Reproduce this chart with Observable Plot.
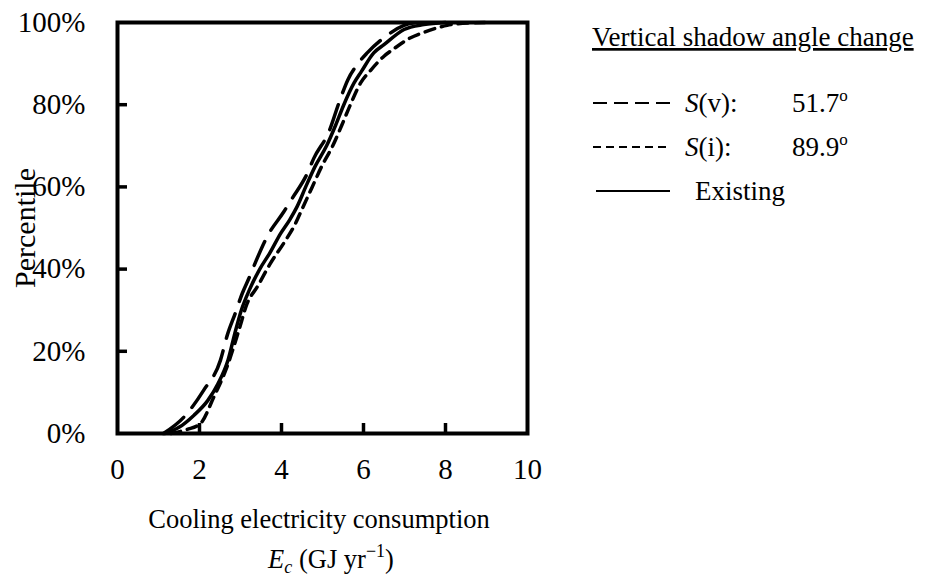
<!DOCTYPE html>
<html>
<head>
<meta charset="utf-8">
<script src="https://cdn.jsdelivr.net/npm/d3@7"></script>
<script src="https://cdn.jsdelivr.net/npm/@observablehq/plot@0.6"></script>
<style>
  html, body { margin: 0; padding: 0; background: #fff; }
  #chart { width: 925px; height: 577px; }
</style>
</head>
<body>
<div id="chart"></div>
<script>
// ---- data ----
const xTicks = [0, 2, 4, 6, 8, 10];
const yTicks = [0, 20, 40, 60, 80, 100];
const seriesNames = ["S(v)", "S(i)", "Existing"];
const legendValues = ["51.7", "89.9", ""];

// Existing (solid)
const existingX   = [1.15, 1.5, 1.86, 2.2, 2.45, 2.7, 2.86, 3.02, 3.22, 3.47, 3.72, 3.98, 4.2, 4.38, 4.59, 4.82, 5.1, 5.32, 5.52, 5.77, 5.95, 6.25, 6.5, 6.99, 7.47, 8.0];
const existingPct = [0, 1.5, 4.4, 8, 12.1, 18, 24.3, 30, 35, 40, 44, 48.7, 52, 55.2, 60, 65, 70, 75, 80, 85.3, 88.1, 92.6, 94.6, 98.3, 99.5, 100];

// S(v): 51.7 (long dash)
const svX   = [1.12, 1.62, 2.10, 2.51, 2.68, 2.87, 3.04, 3.22, 3.38, 3.65, 4.06, 4.26, 4.63, 4.79, 5.16, 5.42, 5.62, 5.85, 6.09, 6.5, 6.99, 7.3];
const svPct = [0, 4, 10.5, 17.8, 24, 29.2, 34, 38.1, 42, 47.9, 54, 57.2, 63.3, 67, 73.5, 81, 86.1, 89.8, 92.6, 96.3, 99.3, 100];

// S(i): 89.9 (short dash)
const siX   = [1.3, 1.7, 2.02, 2.35, 2.67, 2.96, 3.16, 3.41, 3.73, 4.08, 4.30, 4.52, 4.75, 4.98, 5.25, 5.47, 5.68, 5.93, 6.17, 6.50, 6.74, 7.15, 7.39, 7.80, 8.04, 8.61, 9.0];
const siPct = [0, 1, 2.4, 8.9, 16.2, 25.1, 31.6, 35.7, 41.4, 46.7, 50.3, 55, 60, 65, 70, 75, 80, 85.3, 88.3, 91.8, 93.6, 96.3, 97.3, 98.7, 99.3, 99.9, 100];

const toRows = (xs, ps, name) => xs.map((x, i) => ({x, p: ps[i], name}));
const svRows = toRows(svX, svPct, seriesNames[0]);
const siRows = toRows(siX, siPct, seriesNames[1]);
const exRows = toRows(existingX, existingPct, seriesNames[2]);

// ---- layout ----
const W = 925, H = 577;
const mL = 117, mR = 398, mT = 22, mB = 144;
const plotH = H - mT - mB, plotW = W - mL - mR;
const tickLen = 10;
const FONT = "Liberation Serif, 'Times New Roman', serif";
const dashLong = "26,13", dashShort = "10,7";

const plot = Plot.plot({
  width: W, height: H,
  marginLeft: mL, marginRight: mR, marginTop: mT, marginBottom: mB,
  style: {fontFamily: FONT, fontSize: "29px", color: "#000", background: "#fff", overflow: "visible"},
  x: {domain: [0, 10]},
  y: {domain: [0, 100]},
  marks: [
    Plot.line(exRows, {x: "x", y: "p", stroke: "#000", strokeWidth: 3.5, curve: "monotone-x"}),
    Plot.line(svRows, {x: "x", y: "p", stroke: "#000", strokeWidth: 3.5, strokeDasharray: dashLong, curve: "monotone-x"}),
    Plot.line(siRows, {x: "x", y: "p", stroke: "#000", strokeWidth: 3.5, strokeDasharray: dashShort, curve: "monotone-x"}),
    Plot.ruleX(xTicks.slice(1, -1), {x: d => d, insetTop: plotH - tickLen, stroke: "#000", strokeWidth: 3.5}),
    Plot.ruleY(yTicks.slice(1, -1), {y: d => d, insetRight: plotW - tickLen, stroke: "#000", strokeWidth: 3.5}),
    Plot.frame({stroke: "#000", strokeWidth: 4}),
    Plot.axisX({ticks: xTicks, tickSize: 0, tickPadding: 25, label: null, fill: "#000", fontSize: 29}),
    Plot.axisY({ticks: yTicks, tickSize: 0, tickPadding: 32, tickFormat: d => d + "%", label: null, fill: "#000", fontSize: 29}),
    Plot.text(["Percentile"], {frameAnchor: "left", textAnchor: "middle", dx: -92, rotate: -90, text: d => d, fill: "#000", fontSize: 30})
  ]
});
document.getElementById("chart").appendChild(plot);

// ---- x-axis title (mixed styles) ----
const svg = d3.select(plot);
const xs = plot.scale("x");
const cx = xs.apply(5);
svg.append("text")
  .attr("x", cx - 3).attr("y", 528)
  .attr("text-anchor", "middle")
  .attr("font-size", 26.5).attr("fill", "#000")
  .text("Cooling electricity consumption");
const t2 = svg.append("text")
  .attr("x", cx + 9).attr("y", 568)
  .attr("text-anchor", "middle")
  .attr("font-size", 26.5).attr("fill", "#000");
t2.append("tspan").attr("font-style", "italic").text("E");
t2.append("tspan").attr("font-style", "italic").attr("font-size", 18).attr("dy", 5).text("c");
t2.append("tspan").attr("dy", -5).text(" (GJ yr");
t2.append("tspan").attr("font-size", 18).attr("dy", -11).text("\u22121");
t2.append("tspan").attr("dy", 11).text(")");

// ---- legend ----
const lg = svg.append("g").attr("font-size", 27).attr("fill", "#000").attr("text-anchor", "start");
lg.append("text").attr("x", 592).attr("y", 46)
  .style("text-decoration", "underline")
  .text("Vertical shadow angle change");
const rowsY = [112, 156, 200];
const legendDashes = ["14,7", "8,5", null];
const lx1 = [593, 593, 596], lx2 = 670;
rowsY.forEach((y, i) => {
  const ln = lg.append("line").attr("x1", lx1[i]).attr("x2", lx2)
    .attr("y1", y - 9).attr("y2", y - 9)
    .attr("stroke", "#000").attr("stroke-width", 2);
  if (legendDashes[i]) ln.attr("stroke-dasharray", legendDashes[i]);
  const name = seriesNames[i];
  if (legendValues[i]) {
    const t = lg.append("text").attr("x", 685).attr("y", y);
    t.append("tspan").attr("font-style", "italic").text(name[0]);
    t.append("tspan").text(name.slice(1) + ":");
    const v = lg.append("text").attr("x", 792).attr("y", y);
    v.append("tspan").text(legendValues[i]);
    v.append("tspan").attr("font-size", 17).attr("dy", -11).text("o");
  } else {
    lg.append("text").attr("x", 695).attr("y", y).text(name);
  }
});
</script>
</body>
</html>
